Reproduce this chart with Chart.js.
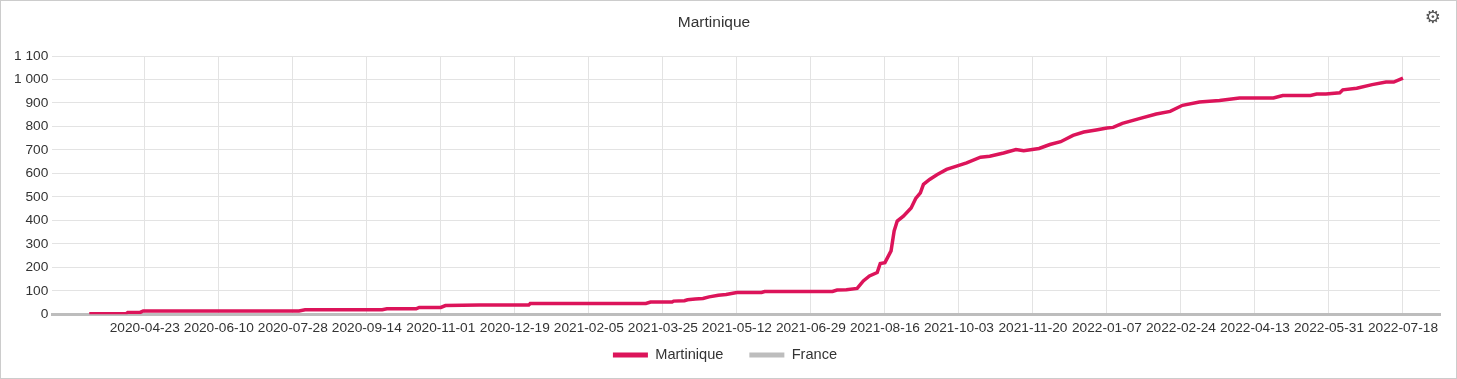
<!DOCTYPE html>
<html>
<head>
<meta charset="utf-8">
<script src="https://cdn.jsdelivr.net/npm/chart.js@4/dist/chart.umd.min.js"></script>
<style>
  body { margin: 0; background: #fff; }
  .box { position: relative; width: 1455px; height: 377px; border: 1px solid #ccc; }
  .gear { position: absolute; right: 15px; top: 5px; font: 18px "DejaVu Sans"; color: #555; }
</style>
</head>
<body>
<div class="box">
  <canvas id="deathsChart"></canvas>
  <span class="gear">⚙</span>
</div>
<script>
// cumulative deaths, Martinique
const dates = [
  '2020-03-18', '2020-04-11', '2020-04-12', '2020-04-20', '2020-04-22', '2020-08-01', '2020-08-05',
  '2020-09-24', '2020-09-27', '2020-10-16', '2020-10-18', '2020-11-01', '2020-11-04', '2020-11-26',
  '2020-12-28', '2020-12-29', '2021-03-14', '2021-03-17', '2021-03-31', '2021-04-01', '2021-04-08',
  '2021-04-10', '2021-04-15', '2021-04-20', '2021-04-24', '2021-04-30', '2021-05-05', '2021-05-12',
  '2021-05-28', '2021-05-30', '2021-07-13', '2021-07-16', '2021-07-22', '2021-07-29', '2021-08-02',
  '2021-08-06', '2021-08-11', '2021-08-13', '2021-08-16', '2021-08-20', '2021-08-22', '2021-08-24',
  '2021-08-28', '2021-09-02', '2021-09-05', '2021-09-08', '2021-09-10', '2021-09-14', '2021-09-19',
  '2021-09-25', '2021-10-01', '2021-10-08', '2021-10-17', '2021-10-23', '2021-11-01', '2021-11-09',
  '2021-11-14', '2021-11-24', '2021-12-01', '2021-12-08', '2021-12-16', '2021-12-23', '2021-12-31',
  '2022-01-07', '2022-01-11', '2022-01-17', '2022-01-28', '2022-02-08', '2022-02-17', '2022-02-25',
  '2022-03-08', '2022-03-21', '2022-04-03', '2022-04-25', '2022-05-01', '2022-05-19', '2022-05-23',
  '2022-05-29', '2022-06-07', '2022-06-09', '2022-06-18', '2022-06-28', '2022-07-07', '2022-07-12',
  '2022-07-18'
];
const martinique = [
  2, 3, 8, 8, 14, 14, 19,
  19, 23, 23, 29, 29, 37, 39,
  39, 46, 46, 52, 52, 56, 58,
  62, 65, 67, 74, 81, 84, 93,
  93, 97, 97, 103, 104, 110, 142,
  163, 178, 216, 220, 270, 355, 397,
  418, 453, 493, 517, 553, 574, 595,
  617, 630, 645, 669, 673, 687, 702,
  697, 706, 723, 735, 762, 776, 785,
  793, 796, 813, 833, 853, 864, 890,
  904, 910, 921, 921, 932, 932, 938,
  938, 943, 956, 963, 978, 989, 989,
  1006
];
const france = [];
const tickDates = [
  '2020-04-23', '2020-06-10', '2020-07-28', '2020-09-14', '2020-11-01', '2020-12-19',
  '2021-02-05', '2021-03-25', '2021-05-12', '2021-06-29', '2021-08-16', '2021-10-03',
  '2021-11-20', '2022-01-07', '2022-02-24', '2022-04-13', '2022-05-31', '2022-07-18'
];

const base = Date.UTC(2020, 3, 23);
const dayOf = s => Math.round((Date.parse(s) - base) / 86400000);
const tickDays = tickDates.map(dayOf);
const spaced = v => String(v).replace(/\B(?=(\d{3})+(?!\d))/g, ' ');

Chart.defaults.font.family = '"Liberation Sans", Arial, sans-serif';
Chart.defaults.font.size = 13.7;
Chart.defaults.color = '#333';

// title sits a bit left of the canvas centre in the original
const shiftTitle = {
  id: 'shiftTitle',
  afterLayout(chart) {
    chart.titleBlock.left -= 11;
    chart.titleBlock.right -= 11;
  }
};

// wide gap between legend items but a short legend box
const LEGEND_TRIM = 21;
const tightLegend = {
  id: 'tightLegend',
  beforeInit(chart) {
    const lg = chart.legend;
    const fit = lg.fit;
    lg.fit = function () { fit.call(this); this.height -= LEGEND_TRIM; };
    const draw = lg.draw;
    lg.draw = function () {
      this.top -= LEGEND_TRIM;
      draw.call(this);
      this.top += LEGEND_TRIM;
    };
  }
};

new Chart(document.getElementById('deathsChart'), {
  type: 'line',
  data: {
    datasets: [{
      label: 'Martinique',
      data: dates.map((d, i) => ({ x: dayOf(d), y: martinique[i] })),
      borderColor: '#dc145a',
      backgroundColor: '#dc145a',
      borderWidth: 3.5,
      pointRadius: 0,
      tension: 0
    }, {
      label: 'France',
      data: france,
      borderColor: '#bdbdbd',
      backgroundColor: '#bdbdbd',
      borderWidth: 3.5,
      pointRadius: 0
    }]
  },
  options: {
    responsive: true,
    maintainAspectRatio: false,
    animation: false,
    layout: { padding: { left: 9, right: 16, top: 6, bottom: 5.7 } },
    plugins: {
      title: {
        display: true,
        text: 'Martinique',
        font: { size: 15.5, weight: 'normal' },
        padding: { top: 6.7, bottom: 23.7 }
      },
      legend: {
        position: 'bottom',
        labels: {
          font: { size: 14.6 },
          boxWidth: 35,
          boxHeight: 5,
          padding: 26,
          generateLabels(chart) {
            const items = Chart.defaults.plugins.legend.labels.generateLabels(chart);
            items.forEach(it => { it.lineWidth = 0; it.fillStyle = it.strokeStyle; });
            return items;
          }
        }
      },
      tooltip: { enabled: false }
    },
    scales: {
      x: {
        type: 'linear',
        min: -60,
        max: 840,
        afterBuildTicks(scale) {
          scale.ticks = tickDays.map(v => ({ value: v }));
        },
        ticks: {
          autoSkip: false,
          maxRotation: 0,
          padding: 6,
          callback: v => tickDates[tickDays.indexOf(v)]
        },
        grid: { color: '#e3e3e3', drawTicks: false },
        border: { color: '#bdbdbd', width: 3 }
      },
      y: {
        min: 0,
        max: 1100,
        ticks: { stepSize: 100, padding: 4, callback: v => spaced(v) },
        grid: { color: '#e3e3e3', drawTicks: false },
        border: { display: false }
      }
    }
  },
  plugins: [shiftTitle, tightLegend]
});
</script>
</body>
</html>
